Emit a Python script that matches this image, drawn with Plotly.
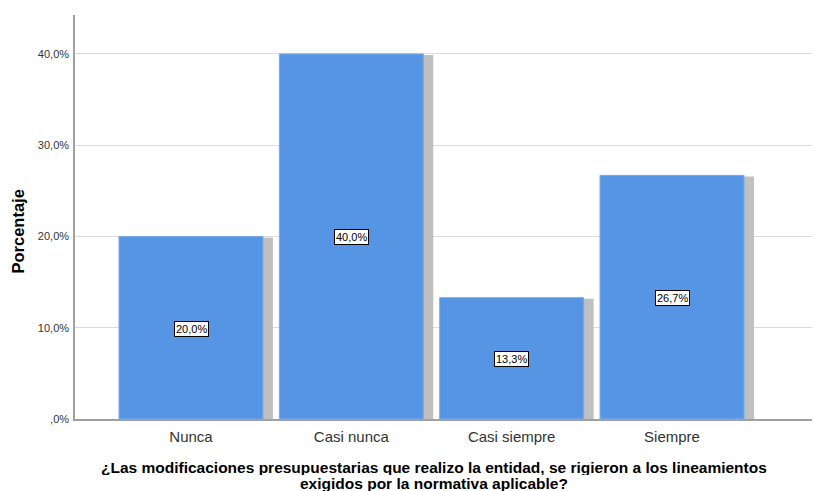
import plotly.graph_objects as go

categorias = ["Nunca", "Casi nunca", "Casi siempre", "Siempre"]
porcentajes = [20.0, 40.0, 13.3, 26.7]
y_ticks = [0, 10, 20, 30, 40]
y_tick_text = [",0%", "10,0%", "20,0%", "30,0%", "40,0%"]
titulo_x = [
    "¿Las modificaciones presupuestarias que realizo la entidad, se rigieron a los lineamientos",
    "exigidos por la normativa aplicable?",
]

BAR_COLOR = "#5595e3"
SHADOW_COLOR = "#c0c0c0"
FONT = "Arial, Liberation Sans, sans-serif"
BAR_W = 0.898
SHADOW_DX = 0.062   # horizontal drop-shadow offset (category units)
SHADOW_DY = 0.12    # vertical drop-shadow offset (percent units)

PLOT_L, PLOT_R, PLOT_T, PLOT_B = 75, 812, 15, 419
PW, PH = PLOT_R - PLOT_L, PLOT_B - PLOT_T

fig = go.Figure()

# drop shadow behind each bar
fig.add_trace(go.Bar(
    x=categorias,
    y=[v - SHADOW_DY for v in porcentajes],
    width=BAR_W,
    offset=-BAR_W / 2 + SHADOW_DX,
    marker=dict(color=SHADOW_COLOR, line=dict(width=0)),
    hoverinfo="skip",
    showlegend=False,
))

# main bars
fig.add_trace(go.Bar(
    x=categorias,
    y=porcentajes,
    width=BAR_W,
    offset=-BAR_W / 2,
    marker=dict(color=BAR_COLOR, line=dict(color="#78abe9", width=1)),
    showlegend=False,
))

# value labels in boxes at mid-height of each bar
for cat, val in zip(categorias, porcentajes):
    fig.add_annotation(
        x=cat, y=val / 2, xref="x", yref="y",
        text=f"{val:.1f}%".replace(".", ","),
        showarrow=False,
        font=dict(family=FONT, size=11, color="#000000"),
        bgcolor="#ffffff", bordercolor="#000000", borderwidth=1, borderpad=1,
        yshift=-1,
    )

# y axis title
fig.add_annotation(
    x=(17.5 - PLOT_L) / PW, y=(PLOT_B - 231) / PH, xref="paper", yref="paper",
    text="<b>Porcentaje</b>", textangle=-90, showarrow=False,
    font=dict(family=FONT, size=16.5, color="#000000"),
    xanchor="center", yanchor="middle",
)
# x axis title, two lines with tight spacing
for linea, y_px in zip(titulo_x, [467, 483]):
    fig.add_annotation(
        x=(434 - PLOT_L) / PW, y=(PLOT_B - y_px) / PH, xref="paper", yref="paper",
        text=f"<b>{linea}</b>",
        showarrow=False, align="center", valign="middle", height=16,
        font=dict(family=FONT, size=15.5, color="#000000"),
        xanchor="center", yanchor="middle",
    )

fig.update_layout(
    width=813, height=491,
    margin=dict(l=PLOT_L, r=813 - PLOT_R, t=PLOT_T, b=491 - PLOT_B),
    paper_bgcolor="#ffffff", plot_bgcolor="#ffffff",
    barmode="overlay",
    font=dict(family=FONT, color="#333333"),
)
fig.update_xaxes(
    type="category",
    range=[-0.7235, 3.873],
    showgrid=False,
    showline=True, linecolor="#a0a0a0", linewidth=1.5,
    ticks="", tickfont=dict(size=15, color="#333333"),
    ticklabelstandoff=3,
    zeroline=False,
)
fig.update_yaxes(
    range=[0, 44.27],
    tickvals=y_ticks, ticktext=y_tick_text,
    showgrid=True, gridcolor="#dcdcdc", gridwidth=1,
    showline=True, linecolor="#a0a0a0", linewidth=1.5,
    ticks="", tickfont=dict(size=11, color="#333333"),
    ticklabelstandoff=2,
    zeroline=False,
)

fig.write_html("out.html")
